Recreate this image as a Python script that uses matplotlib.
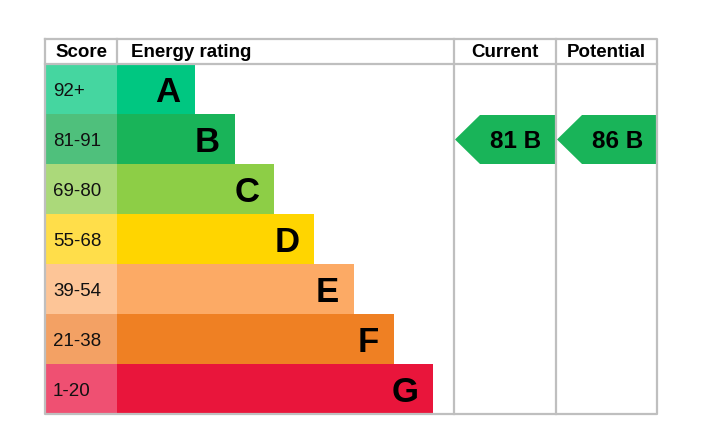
import matplotlib.pyplot as plt
from matplotlib.patches import Rectangle, Polygon

# EPC bands, top (best) to bottom
bands = ['A', 'B', 'C', 'D', 'E', 'F', 'G']
score_labels = ['92+', '81-91', '69-80', '55-68', '39-54', '21-38', '1-20']
band_min = [92, 81, 69, 55, 39, 21, 1]
bar_colors = ['#00c781', '#19b459', '#8dce46', '#ffd500', '#fcaa65', '#ef8023', '#e9153b']
score_colors = ['#45d6a0', '#4fc07c', '#abd97a', '#ffde4a', '#fdc597', '#f3a164', '#ef5072']
current_score = 81
potential_score = 86
headers = ['Score', 'Energy rating', 'Current', 'Potential']

plt.rcParams['font.family'] = ['Liberation Sans', 'DejaVu Sans']

fig = plt.figure(figsize=(7.23, 4.41), dpi=100)
ax = fig.add_axes([0, 0, 1, 1])
ax.set_xlim(0, 723)
ax.set_ylim(441, 0)
ax.axis('off')

left, right, top = 45, 657, 39
head_h, row_h = 25, 50
score_r, rating_r, cur_r = 117, 454, 556
bottom = top + head_h + row_h * len(bands)
grid = '#bfbfbf'


def band_of(score):
    for i, m in enumerate(band_min):
        if score >= m:
            return i
    return len(bands) - 1


# rows (text placed on baseline so caps sit centred in the row)
for i, (b, s) in enumerate(zip(bands, score_labels)):
    y0 = top + head_h + i * row_h
    yc = y0 + row_h / 2
    ax.add_patch(Rectangle((left, y0), score_r - left, row_h, color=score_colors[i], lw=0))
    bar_end = 195 + 39.7 * i
    ax.add_patch(Rectangle((score_r, y0), bar_end - score_r, row_h, color=bar_colors[i], lw=0))
    ax.text(left + 8, yc + 7.5, s, fontsize=13.5, va='baseline', ha='left', color='#111')
    ax.text(bar_end - 14.5, yc + 13, b, fontsize=25, fontweight='bold',
            va='baseline', ha='right', color='black')

# grid lines
ax.plot([left, right, right, left, left], [top, top, bottom, bottom, top], color=grid, lw=1.6)
ax.plot([left, right], [top + head_h, top + head_h], color=grid, lw=1.6)
for x in (score_r, rating_r, cur_r):
    ax.plot([x, x], [top, bottom if x != score_r else top + head_h], color=grid, lw=1.6)

# headers
hx = [(left + score_r) / 2, score_r + 14, (rating_r + cur_r) / 2, (cur_r + right) / 2]
ha = ['center', 'left', 'center', 'center']
for x, t, a in zip(hx, headers, ha):
    ax.text(x, top + 18, t, fontsize=13.5, fontweight='bold', va='baseline', ha=a)


def arrow(x0, x1, score):
    i = band_of(score)
    y0 = top + head_h + i * row_h + 1
    y1 = y0 + row_h - 1
    tip = 26
    pts = [(x0 + 1, (y0 + y1) / 2), (x0 + tip, y0), (x1, y0), (x1, y1), (x0 + tip, y1)]
    ax.add_patch(Polygon(pts, closed=True, color=bar_colors[i], lw=0))
    ax.text(x1 - 14, (y0 + y1) / 2 + 8.5, f'{score} {bands[i]}', fontsize=17.5,
            fontweight='bold', va='baseline', ha='right')


arrow(rating_r, cur_r - 1, current_score)
arrow(cur_r, right, potential_score)

fig.savefig('out.png', dpi=100)
